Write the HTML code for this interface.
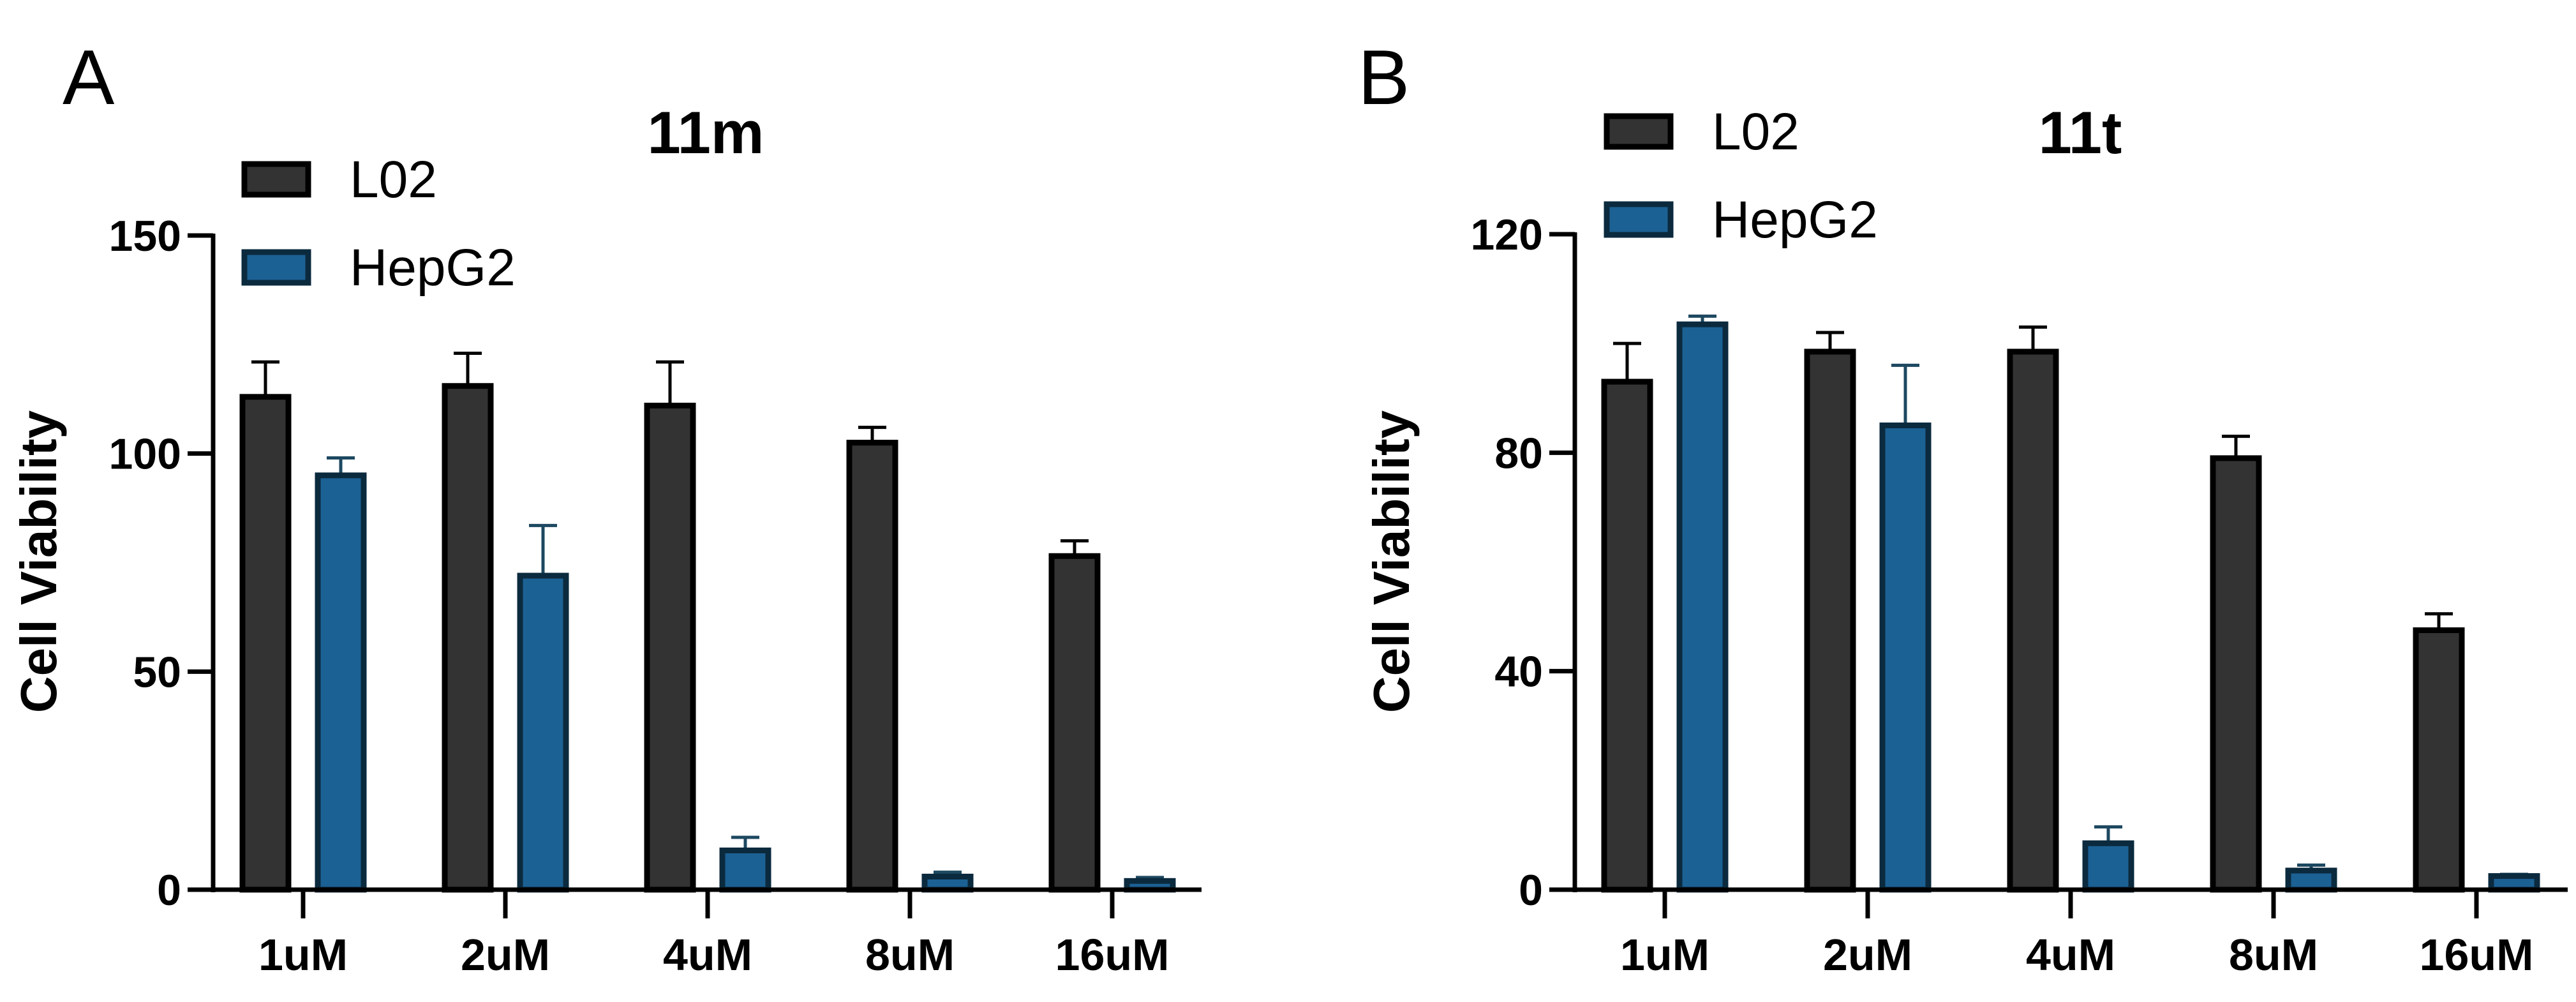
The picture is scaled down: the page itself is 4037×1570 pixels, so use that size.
<!DOCTYPE html>
<html><head><meta charset="utf-8"><style>
html,body{margin:0;padding:0;background:#fff;}
svg{display:block;font-family:"Liberation Sans",Arial,sans-serif;}
</style></head><body>
<svg id="fig" width="4037" height="1570" viewBox="0 0 4037 1570" xmlns="http://www.w3.org/2000/svg"></svg>
<script>
const categories = ["1uM","2uM","4uM","8uM","16uM"];
const seriesNames = ["L02","HepG2"];
const aL02 = [113,115.5,111,102.5,76.5];
const aL02Err = [121,123,121,106,80];
const aHep = [95,72,9,3,2];
const aHepErr = [99,83.5,12,4,2.8];
const aTicks = [0,50,100,150];
const bL02 = [93,98.5,98.5,79,47.5];
const bL02Err = [100,102,103,83,50.5];
const bHep = [103.5,85,8.5,3.5,2.5];
const bHepErr = [105,96,11.5,4.5,2.8];
const bTicks = [0,40,80,120];

const NS="http://www.w3.org/2000/svg";
const svg=document.getElementById('fig');
function mk(tag,attrs,parent,text){const e=document.createElementNS(NS,tag);for(const k in attrs)e.setAttribute(k,attrs[k]);if(text!==undefined)e.textContent=text;(parent||svg).appendChild(e);return e;}

function panel(cfg){
  const g=mk('g',{});
  
  
  const yMax=cfg.ticks[cfg.ticks.length-1];
  const y=v=>cfg.y0-(v/yMax)*(cfg.y0-cfg.yTop);
  const x=i=>cfg.x0+i*cfg.step;
  const L=mk('text',{x:cfg.letterX,y:163,'font-size':122,fill:'#000'},g,cfg.id);
  
  
  const T=mk('text',{x:cfg.titleX,y:240,'font-size':94,'font-weight':'bold','text-anchor':'middle',fill:'#000'},g,cfg.title);
  
  
  const bw=72, off=59;
  const sets=[[cfg.l02,cfg.l02e,'#333333','#000000',-off,'l02'],[cfg.hep,cfg.hepe,'#1c6194','#0b2a3e',off,'hepg2']];
  sets.forEach(s=>{
    s[0].forEach((v,i)=>{
      const cx=x(i)+s[4];
      const eb=mk('line',{x1:cx,x2:cx,y1:y(s[1][i]),y2:y(v),stroke:s[5]=='l02'?'#000':'#1d4860','stroke-width':5},g);
      
      
      const cap=mk('line',{x1:cx-22,x2:cx+22,y1:y(s[1][i]),y2:y(s[1][i]),stroke:s[5]=='l02'?'#000':'#1d4860','stroke-width':5},g);
      
      
      const r=mk('rect',{x:cx-bw/2,y:y(v),width:bw,height:Math.max(cfg.y0-y(v),0),fill:s[2],stroke:s[3],'stroke-width':9},g);
      
      
    });
  });
  const ya=mk('line',{x1:cfg.axX,x2:cfg.axX,y1:cfg.yTop-3,y2:cfg.y0+4,stroke:'#000','stroke-width':7},g);
  
  
  const xa=mk('line',{x1:cfg.axX-3,x2:cfg.xEnd,y1:cfg.y0,y2:cfg.y0,stroke:'#000','stroke-width':7},g);
  
  
  cfg.ticks.forEach(t=>{
    const tk=mk('line',{x1:cfg.axX-40,x2:cfg.axX,y1:y(t),y2:y(t),stroke:'#000','stroke-width':7},g);
    
    
    const tl=mk('text',{x:cfg.axX-50,y:y(t)+24,'font-size':68,'font-weight':'bold','text-anchor':'end',fill:'#000'},g,String(t));
    
    
  });
  categories.forEach((c,i)=>{
    const tk=mk('line',{x1:x(i),x2:x(i),y1:cfg.y0,y2:cfg.y0+45,stroke:'#000','stroke-width':7},g);
    
    
    const tl=mk('text',{x:x(i),y:1520,'font-size':70,'font-weight':'bold','text-anchor':'middle',fill:'#000'},g,c);
    
    
  });
  const yt=mk('text',{x:0,y:0,'font-size':80,'font-weight':'bold','text-anchor':'middle',fill:'#000',transform:`translate(${cfg.ytX},880) rotate(-90)`},g,'Cell Viability');
  
  
  [[cfg.leg1Y,'#333333','#000000',seriesNames[0]],[cfg.leg2Y,'#1c6194','#0b2a3e',seriesNames[1]]].forEach((l,k)=>{
    const sw=mk('rect',{x:cfg.legX,y:l[0]-23,width:100,height:48,fill:l[1],stroke:l[2],'stroke-width':9},g);
    
    
    const lt=mk('text',{x:cfg.legX+165,y:l[0]+29,'font-size':82,fill:'#000'},g,l[3]);
    
    
  });
}
panel({id:'A',title:'11m',letterX:98,titleX:1106,l02:aL02,l02e:aL02Err,hep:aHep,hepe:aHepErr,ticks:aTicks,
  axX:334,yTop:369,y0:1394,x0:475,step:317,xEnd:1883,ytX:88,legX:383,leg1Y:280,leg2Y:418});
panel({id:'B',title:'11t',letterX:2128,titleX:3260,l02:bL02,l02e:bL02Err,hep:bHep,hepe:bHepErr,ticks:bTicks,
  axX:2468,yTop:367,y0:1394,x0:2609,step:318,xEnd:4024,ytX:2208,legX:2518,leg1Y:205,leg2Y:343});
</script>
</body></html>
